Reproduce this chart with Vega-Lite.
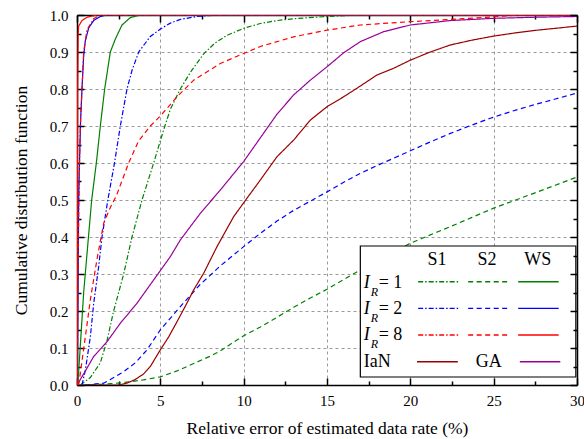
{
  "$schema": "https://vega.github.io/schema/vega-lite/v6.json",
  "width": 500,
  "height": 370,
  "autosize": "none",
  "padding": {"left": 77, "top": 15, "right": 7, "bottom": 54},
  "background": "white",
  "config": {
    "font": "Liberation Serif",
    "view": {"stroke": null},
    "axis": {"labelFont": "Liberation Serif", "titleFont": "Liberation Serif"},
    "text": {"font": "Liberation Serif"}
  },
  "datasets": {
    "curves": [
      {"series":"S2 IR1","x":0.3,"y":0},{"series":"S2 IR1","x":1.5,"y":0.002},{"series":"S2 IR1","x":2.7,"y":0.006},{"series":"S2 IR1","x":4,"y":0.014},{"series":"S2 IR1","x":5,"y":0.022},{"series":"S2 IR1","x":6,"y":0.038},{"series":"S2 IR1","x":7,"y":0.058},{"series":"S2 IR1","x":8,"y":0.078},{"series":"S2 IR1","x":8.6,"y":0.092},{"series":"S2 IR1","x":9.3,"y":0.113},{"series":"S2 IR1","x":10,"y":0.133},{"series":"S2 IR1","x":11,"y":0.157},{"series":"S2 IR1","x":12,"y":0.183},{"series":"S2 IR1","x":13,"y":0.21},{"series":"S2 IR1","x":14,"y":0.235},{"series":"S2 IR1","x":15,"y":0.259},{"series":"S2 IR1","x":16,"y":0.285},{"series":"S2 IR1","x":17,"y":0.311},{"series":"S2 IR1","x":18,"y":0.337},{"series":"S2 IR1","x":19,"y":0.36},{"series":"S2 IR1","x":20,"y":0.383},{"series":"S2 IR1","x":21,"y":0.402},{"series":"S2 IR1","x":22.4,"y":0.428},{"series":"S2 IR1","x":23.7,"y":0.453},{"series":"S2 IR1","x":25,"y":0.478},{"series":"S2 IR1","x":26.2,"y":0.498},{"series":"S2 IR1","x":27.4,"y":0.518},{"series":"S2 IR1","x":28.7,"y":0.54},{"series":"S2 IR1","x":30,"y":0.562},

      {"series":"S1 IR1","x":0.2,"y":0},{"series":"S1 IR1","x":0.8,"y":0.02},{"series":"S1 IR1","x":1.4,"y":0.06},{"series":"S1 IR1","x":1.8,"y":0.12},{"series":"S1 IR1","x":2.2,"y":0.2},{"series":"S1 IR1","x":2.8,"y":0.3},{"series":"S1 IR1","x":3.3,"y":0.4},{"series":"S1 IR1","x":3.9,"y":0.5},{"series":"S1 IR1","x":4.6,"y":0.6},{"series":"S1 IR1","x":5.2,"y":0.69},{"series":"S1 IR1","x":5.6,"y":0.745},{"series":"S1 IR1","x":6.2,"y":0.8},{"series":"S1 IR1","x":6.8,"y":0.845},{"series":"S1 IR1","x":7.6,"y":0.895},{"series":"S1 IR1","x":8.3,"y":0.925},{"series":"S1 IR1","x":9,"y":0.945},{"series":"S1 IR1","x":10,"y":0.964},{"series":"S1 IR1","x":11,"y":0.977},{"series":"S1 IR1","x":12,"y":0.985},{"series":"S1 IR1","x":13,"y":0.99},{"series":"S1 IR1","x":15,"y":0.996},{"series":"S1 IR1","x":17,"y":1},{"series":"S1 IR1","x":30,"y":1},

      {"series":"WS IR1","x":0.05,"y":0},{"series":"WS IR1","x":0.4,"y":0.25},{"series":"WS IR1","x":0.88,"y":0.5},{"series":"WS IR1","x":1.16,"y":0.6},{"series":"WS IR1","x":1.4,"y":0.7},{"series":"WS IR1","x":1.66,"y":0.8},{"series":"WS IR1","x":2,"y":0.9},{"series":"WS IR1","x":2.3,"y":0.935},{"series":"WS IR1","x":2.7,"y":0.973},{"series":"WS IR1","x":3.2,"y":0.993},{"series":"WS IR1","x":3.8,"y":1},{"series":"WS IR1","x":30,"y":1},

      {"series":"S2 IR2","x":0.5,"y":0},{"series":"S2 IR2","x":1.6,"y":0.005},{"series":"S2 IR2","x":2,"y":0.015},{"series":"S2 IR2","x":2.8,"y":0.036},{"series":"S2 IR2","x":3.5,"y":0.06},{"series":"S2 IR2","x":4.2,"y":0.095},{"series":"S2 IR2","x":5,"y":0.149},{"series":"S2 IR2","x":6.2,"y":0.212},{"series":"S2 IR2","x":7.4,"y":0.272},{"series":"S2 IR2","x":8.6,"y":0.322},{"series":"S2 IR2","x":10,"y":0.374},{"series":"S2 IR2","x":11,"y":0.41},{"series":"S2 IR2","x":12,"y":0.443},{"series":"S2 IR2","x":13,"y":0.472},{"series":"S2 IR2","x":14,"y":0.497},{"series":"S2 IR2","x":15,"y":0.522},{"series":"S2 IR2","x":16,"y":0.548},{"series":"S2 IR2","x":17,"y":0.572},{"series":"S2 IR2","x":18,"y":0.593},{"series":"S2 IR2","x":19,"y":0.613},{"series":"S2 IR2","x":20,"y":0.633},{"series":"S2 IR2","x":21.2,"y":0.657},{"series":"S2 IR2","x":22.4,"y":0.68},{"series":"S2 IR2","x":23.6,"y":0.701},{"series":"S2 IR2","x":24.8,"y":0.721},{"series":"S2 IR2","x":26.1,"y":0.74},{"series":"S2 IR2","x":27.4,"y":0.757},{"series":"S2 IR2","x":28.7,"y":0.773},{"series":"S2 IR2","x":30,"y":0.789},

      {"series":"S1 IR2","x":0.3,"y":0},{"series":"S1 IR2","x":0.5,"y":0.04},{"series":"S1 IR2","x":0.8,"y":0.13},{"series":"S1 IR2","x":1,"y":0.22},{"series":"S1 IR2","x":1.3,"y":0.32},{"series":"S1 IR2","x":1.5,"y":0.4},{"series":"S1 IR2","x":1.85,"y":0.5},{"series":"S1 IR2","x":2.25,"y":0.6},{"series":"S1 IR2","x":2.6,"y":0.7},{"series":"S1 IR2","x":3,"y":0.8},{"series":"S1 IR2","x":3.3,"y":0.85},{"series":"S1 IR2","x":3.7,"y":0.9},{"series":"S1 IR2","x":4.4,"y":0.942},{"series":"S1 IR2","x":5,"y":0.962},{"series":"S1 IR2","x":5.6,"y":0.978},{"series":"S1 IR2","x":6.2,"y":0.988},{"series":"S1 IR2","x":7.2,"y":0.996},{"series":"S1 IR2","x":8.5,"y":1},{"series":"S1 IR2","x":30,"y":1},

      {"series":"WS IR2","x":0.02,"y":0},{"series":"WS IR2","x":0.06,"y":0.25},{"series":"WS IR2","x":0.1,"y":0.5},{"series":"WS IR2","x":0.16,"y":0.62},{"series":"WS IR2","x":0.22,"y":0.72},{"series":"WS IR2","x":0.3,"y":0.8},{"series":"WS IR2","x":0.4,"y":0.89},{"series":"WS IR2","x":0.5,"y":0.93},{"series":"WS IR2","x":0.7,"y":0.965},{"series":"WS IR2","x":1,"y":0.985},{"series":"WS IR2","x":1.4,"y":0.996},{"series":"WS IR2","x":1.8,"y":1},{"series":"WS IR2","x":30,"y":1},

      {"series":"IaN","x":0,"y":0},{"series":"IaN","x":2.5,"y":0},{"series":"IaN","x":3,"y":0.005},{"series":"IaN","x":3.5,"y":0.015},{"series":"IaN","x":4,"y":0.03},{"series":"IaN","x":4.4,"y":0.05},{"series":"IaN","x":5,"y":0.095},{"series":"IaN","x":5.5,"y":0.13},{"series":"IaN","x":6,"y":0.171},{"series":"IaN","x":6.5,"y":0.213},{"series":"IaN","x":7,"y":0.257},{"series":"IaN","x":7.6,"y":0.302},{"series":"IaN","x":8.4,"y":0.374},{"series":"IaN","x":9.4,"y":0.455},{"series":"IaN","x":10.2,"y":0.505},{"series":"IaN","x":11,"y":0.554},{"series":"IaN","x":12,"y":0.617},{"series":"IaN","x":13,"y":0.662},{"series":"IaN","x":14,"y":0.716},{"series":"IaN","x":15,"y":0.752},{"series":"IaN","x":16,"y":0.779},{"series":"IaN","x":17,"y":0.808},{"series":"IaN","x":18,"y":0.838},{"series":"IaN","x":19,"y":0.856},{"series":"IaN","x":20,"y":0.878},{"series":"IaN","x":21.2,"y":0.9},{"series":"IaN","x":22.4,"y":0.919},{"series":"IaN","x":23.7,"y":0.932},{"series":"IaN","x":25,"y":0.943},{"series":"IaN","x":26.2,"y":0.951},{"series":"IaN","x":27.4,"y":0.958},{"series":"IaN","x":28.7,"y":0.964},{"series":"IaN","x":30,"y":0.97},

      {"series":"GA","x":0,"y":0},{"series":"GA","x":0.4,"y":0.03},{"series":"GA","x":1,"y":0.077},{"series":"GA","x":1.8,"y":0.117},{"series":"GA","x":2.6,"y":0.167},{"series":"GA","x":3.6,"y":0.221},{"series":"GA","x":4.6,"y":0.284},{"series":"GA","x":5.6,"y":0.347},{"series":"GA","x":6.2,"y":0.392},{"series":"GA","x":7.4,"y":0.464},{"series":"GA","x":8.6,"y":0.527},{"series":"GA","x":10,"y":0.604},{"series":"GA","x":11,"y":0.668},{"series":"GA","x":12,"y":0.732},{"series":"GA","x":13,"y":0.784},{"series":"GA","x":14,"y":0.824},{"series":"GA","x":15,"y":0.86},{"series":"GA","x":16,"y":0.898},{"series":"GA","x":17,"y":0.928},{"series":"GA","x":18.4,"y":0.955},{"series":"GA","x":20,"y":0.973},{"series":"GA","x":22.4,"y":0.985},{"series":"GA","x":25,"y":0.991},{"series":"GA","x":27.5,"y":0.994},{"series":"GA","x":30,"y":0.996},

      {"series":"S2 IR8","x":0.1,"y":0},{"series":"S2 IR8","x":0.5,"y":0.13},{"series":"S2 IR8","x":0.8,"y":0.23},{"series":"S2 IR8","x":1.2,"y":0.34},{"series":"S2 IR8","x":1.6,"y":0.437},{"series":"S2 IR8","x":2,"y":0.48},{"series":"S2 IR8","x":2.35,"y":0.51},{"series":"S2 IR8","x":3.1,"y":0.6},{"series":"S2 IR8","x":3.7,"y":0.66},{"series":"S2 IR8","x":4.4,"y":0.7},{"series":"S2 IR8","x":5,"y":0.727},{"series":"S2 IR8","x":6,"y":0.779},{"series":"S2 IR8","x":7,"y":0.824},{"series":"S2 IR8","x":8.6,"y":0.869},{"series":"S2 IR8","x":10,"y":0.896},{"series":"S2 IR8","x":11,"y":0.915},{"series":"S2 IR8","x":13,"y":0.941},{"series":"S2 IR8","x":15,"y":0.959},{"series":"S2 IR8","x":17,"y":0.973},{"series":"S2 IR8","x":20,"y":0.982},{"series":"S2 IR8","x":22.4,"y":0.988},{"series":"S2 IR8","x":25,"y":0.995},{"series":"S2 IR8","x":26.5,"y":1},{"series":"S2 IR8","x":30,"y":1},

      {"series":"S1 IR8","x":0.02,"y":0},{"series":"S1 IR8","x":0.05,"y":0.2},{"series":"S1 IR8","x":0.1,"y":0.45},{"series":"S1 IR8","x":0.15,"y":0.6},{"series":"S1 IR8","x":0.2,"y":0.7},{"series":"S1 IR8","x":0.3,"y":0.8},{"series":"S1 IR8","x":0.4,"y":0.9},{"series":"S1 IR8","x":0.6,"y":0.96},{"series":"S1 IR8","x":1,"y":0.99},{"series":"S1 IR8","x":1.4,"y":1},{"series":"S1 IR8","x":30,"y":1},

      {"series":"WS IR8","x":0,"y":0},{"series":"WS IR8","x":0.02,"y":0.4},{"series":"WS IR8","x":0.04,"y":0.8},{"series":"WS IR8","x":0.07,"y":0.95},{"series":"WS IR8","x":0.1,"y":0.97},{"series":"WS IR8","x":0.3,"y":0.985},{"series":"WS IR8","x":0.6,"y":0.994},{"series":"WS IR8","x":1.2,"y":1},{"series":"WS IR8","x":30,"y":1}
    ],
    "legendBox": [{"x": 17.0, "x2": 29.93, "y": 0.0216, "y2": 0.3757}],
    "legendSamples": [
      {"series":"S1 IR1","x":20.47,"x2":22.9,"y":0.279},
      {"series":"S2 IR1","x":23.47,"x2":25.95,"y":0.279},
      {"series":"WS IR1","x":26.47,"x2":28.9,"y":0.279},
      {"series":"S1 IR2","x":20.47,"x2":22.9,"y":0.207},
      {"series":"S2 IR2","x":23.47,"x2":25.95,"y":0.207},
      {"series":"WS IR2","x":26.47,"x2":28.9,"y":0.207},
      {"series":"S1 IR8","x":20.47,"x2":22.9,"y":0.135},
      {"series":"S2 IR8","x":23.47,"x2":25.95,"y":0.135},
      {"series":"WS IR8","x":26.47,"x2":28.9,"y":0.135},
      {"series":"IaN","x":20.4,"x2":22.85,"y":0.063},
      {"series":"GA","x":26.57,"x2":29.0,"y":0.063}
    ],
    "legendHeader": [
      {"t":"S1","x":21.6,"y":0.338},
      {"t":"S2","x":24.6,"y":0.338},
      {"t":"WS","x":27.65,"y":0.338},
      {"t":"GA","x":24.7,"y":0.0616}
    ],
    "legendRowText": [
      {"t":"= 1","x":18.1,"y":0.276},
      {"t":"= 2","x":18.1,"y":0.205},
      {"t":"= 8","x":18.1,"y":0.1346},
      {"t":"IaN","x":17.2,"y":0.0616}
    ],
    "legendI": [
      {"t":"I","x":17.2,"y":0.276},
      {"t":"I","x":17.2,"y":0.205},
      {"t":"I","x":17.2,"y":0.1346}
    ],
    "legendR": [
      {"t":"R","x":17.62,"y":0.252},
      {"t":"R","x":17.62,"y":0.181},
      {"t":"R","x":17.62,"y":0.1106}
    ]
  },
  "resolve": {"axis": {"x": "independent", "y": "independent"}},
  "layer": [
    {
      "data": {"name": "curves"},
      "mark": {"type": "line", "strokeWidth": 1.2, "clip": true},
      "encoding": {
        "x": {
          "field": "x", "type": "quantitative",
          "scale": {"domain": [0, 30], "nice": false, "zero": false},
          "axis": {
            "orient": "bottom",
            "values": [0,2.5,5,7.5,10,12.5,15,17.5,20,22.5,25,27.5,30],
            "format": "d",
            "labelExpr": "datum.value % 5 === 0 ? datum.label : ''",
            "labelOverlap": false, "labelFlush": false,
            "labelFont": "Liberation Serif", "titleFont": "Liberation Serif",
            "labelFontSize": 15, "labelColor": "black", "labelPadding": 15,
            "tickSize": {"condition": {"test": "datum.value % 5 !== 0", "value": -4}, "value": -7},
            "tickColor": "black", "tickWidth": 1.5,
            "domainColor": "black", "domainWidth": 1.5,
            "grid": true, "gridColor": "#9a9a9a", "gridDash": [3, 3], "gridWidth": 1,
            "gridOpacity": {"condition": {"test": "datum.value % 5 !== 0 || datum.value === 0 || datum.value === 30", "value": 0}, "value": 1},
            "title": "Relative error of estimated data rate (%)",
            "titleFontSize": 17.5, "titleFontWeight": "normal", "titleColor": "black", "titlePadding": 8
          }
        },
        "y": {
          "field": "y", "type": "quantitative",
          "scale": {"domain": [0, 1], "nice": false, "zero": false},
          "axis": {
            "orient": "left",
            "values": [0,0.05,0.1,0.15,0.2,0.25,0.3,0.35,0.4,0.45,0.5,0.55,0.6,0.65,0.7,0.75,0.8,0.85,0.9,0.95,1],
            "format": ".1f",
            "labelExpr": "round(datum.value * 20) % 2 === 0 ? datum.label : ''",
            "labelOverlap": false, "labelFlush": false,
            "labelFont": "Liberation Serif", "titleFont": "Liberation Serif",
            "labelFontSize": 15, "labelColor": "black", "labelPadding": 16,
            "tickSize": {"condition": {"test": "round(datum.value * 20) % 2 === 1", "value": -4}, "value": -7},
            "tickColor": "black", "tickWidth": 1.5,
            "domainColor": "black", "domainWidth": 1.5,
            "grid": true, "gridColor": "#9a9a9a", "gridDash": [3, 3], "gridWidth": 1,
            "gridOpacity": {"condition": {"test": "round(datum.value * 20) % 2 === 1 || datum.value === 0 || datum.value === 1", "value": 0}, "value": 1},
            "title": "Cumulative distribution function",
            "titleFontSize": 17.5, "titleFontWeight": "normal", "titleColor": "black", "titlePadding": 19
          }
        },
        "color": {
          "field": "series", "type": "nominal", "legend": null,
          "scale": {
            "domain": ["S1 IR1","S2 IR1","WS IR1","S1 IR2","S2 IR2","WS IR2","S1 IR8","S2 IR8","WS IR8","IaN","GA"],
            "range": ["#008000","#008000","#008000","#0000ff","#0000ff","#0000ff","#ff0000","#ff0000","#ff0000","#990000","#990099"]
          }
        },
        "strokeDash": {
          "field": "series", "type": "nominal", "legend": null,
          "scale": {
            "domain": ["S1 IR1","S2 IR1","WS IR1","S1 IR2","S2 IR2","WS IR2","S1 IR8","S2 IR8","WS IR8","IaN","GA"],
            "range": [[5,2,1.5,2],[5,3.5],[1,0],[5,2,1.5,2],[5,3.5],[1,0],[5,2,1.5,2],[5,3.5],[1,0],[1,0],[1,0]]
          }
        }
      }
    },
    {
      "data": {"name": "legendBox"},
      "mark": {"type": "rect", "fill": "white", "stroke": "black", "strokeWidth": 1.2},
      "encoding": {
        "x": {
          "field": "x", "type": "quantitative",
          "axis": {
            "orient": "top",
            "values": [0,2.5,5,7.5,10,12.5,15,17.5,20,22.5,25,27.5,30],
            "labels": false, "grid": false, "title": null,
            "tickSize": {"condition": {"test": "datum.value % 5 !== 0", "value": -4}, "value": -7},
            "tickColor": "black", "tickWidth": 1.5,
            "domainColor": "black", "domainWidth": 1.5
          }
        },
        "x2": {"field": "x2"},
        "y": {
          "field": "y", "type": "quantitative",
          "axis": {
            "orient": "right", "zindex": 1,
            "values": [0,0.05,0.1,0.15,0.2,0.25,0.3,0.35,0.4,0.45,0.5,0.55,0.6,0.65,0.7,0.75,0.8,0.85,0.9,0.95,1],
            "labels": false, "grid": false, "title": null,
            "tickSize": {"condition": {"test": "round(datum.value * 20) % 2 === 1", "value": -4}, "value": -7},
            "tickColor": "black", "tickWidth": 1.5,
            "domainColor": "black", "domainWidth": 1.5
          }
        },
        "y2": {"field": "y2"}
      }
    },
    {
      "data": {"name": "legendSamples"},
      "mark": {"type": "rule", "strokeWidth": 1.4},
      "encoding": {
        "x": {"field": "x", "type": "quantitative", "axis": null},
        "x2": {"field": "x2"},
        "y": {"field": "y", "type": "quantitative", "axis": null},
        "color": {"field": "series", "type": "nominal", "legend": null},
        "strokeDash": {"field": "series", "type": "nominal", "legend": null}
      }
    },
    {
      "data": {"name": "legendHeader"},
      "mark": {"type": "text", "font": "Liberation Serif", "fontSize": 18, "align": "center", "baseline": "middle", "color": "black"},
      "encoding": {
        "x": {"field": "x", "type": "quantitative", "axis": null},
        "y": {"field": "y", "type": "quantitative", "axis": null},
        "text": {"field": "t"}
      }
    },
    {
      "data": {"name": "legendRowText"},
      "mark": {"type": "text", "font": "Liberation Serif", "fontSize": 18, "align": "left", "baseline": "middle", "color": "black"},
      "encoding": {
        "x": {"field": "x", "type": "quantitative", "axis": null},
        "y": {"field": "y", "type": "quantitative", "axis": null},
        "text": {"field": "t"}
      }
    },
    {
      "data": {"name": "legendI"},
      "mark": {"type": "text", "font": "Liberation Serif", "fontSize": 18, "fontStyle": "italic", "align": "left", "baseline": "middle", "color": "black"},
      "encoding": {
        "x": {"field": "x", "type": "quantitative", "axis": null},
        "y": {"field": "y", "type": "quantitative", "axis": null},
        "text": {"field": "t"}
      }
    },
    {
      "data": {"name": "legendR"},
      "mark": {"type": "text", "font": "Liberation Serif", "fontSize": 12, "fontStyle": "italic", "align": "left", "baseline": "middle", "color": "black"},
      "encoding": {
        "x": {"field": "x", "type": "quantitative", "axis": null},
        "y": {"field": "y", "type": "quantitative", "axis": null},
        "text": {"field": "t"}
      }
    }
  ]
}
